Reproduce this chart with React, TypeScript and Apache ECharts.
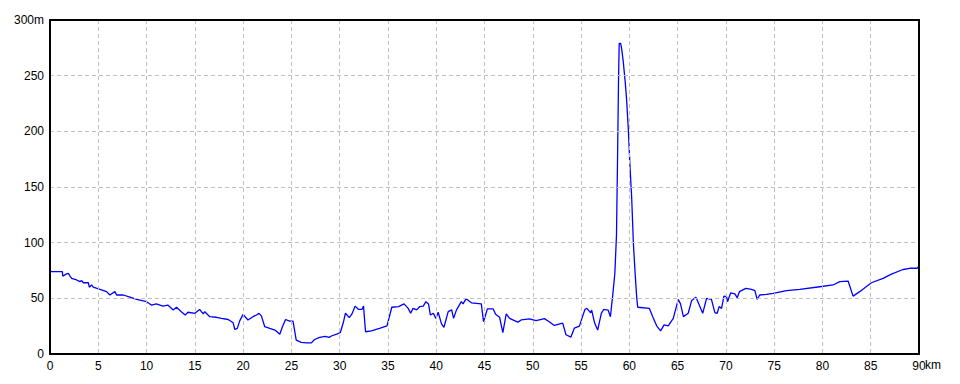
import React, { useEffect, useRef } from "react";
import * as echarts from "echarts";

// distance along route (km)
const distanceKm: number[] = [
  0.0, 0.03, 0.08, 1.28, 1.32, 1.72, 1.9, 2.07, 2.24, 2.76, 3.1, 3.28, 3.45, 3.97, 4.07, 4.31, 4.48,
  5.17, 5.86, 6.2, 6.72, 6.9, 7.59, 8.28, 8.97, 10.0, 10.5, 11.0, 11.7, 12.2, 12.76, 13.1, 13.6,
  14.0, 14.3, 15.0, 15.5, 15.86, 16.03, 16.55, 17.24, 17.76, 18.45, 18.97, 19.14, 19.4, 19.66,
  20.0, 20.5, 21.03, 21.38, 21.65, 21.9, 22.24, 22.76, 23.3, 23.8, 24.07, 24.4, 24.83, 25.17,
  25.5, 26.03, 26.55, 27.07, 27.4, 27.93, 28.5, 28.9, 29.2, 29.7, 30.07, 30.4, 30.6, 31.0, 31.27,
  31.6, 31.96, 32.3, 32.47, 32.68, 33.3, 34.2, 34.9, 35.4, 36.1, 36.67, 37.1, 37.35, 37.6, 37.97,
  38.3, 38.66, 38.93, 39.2, 39.4, 39.7, 39.97, 40.2, 40.55, 40.8, 41.24, 41.6, 41.8, 42.1, 42.6,
  42.78, 43.1, 43.64, 44.16, 44.67, 44.9, 45.3, 45.9, 46.15, 46.56, 46.9, 47.25, 47.6, 47.94,
  48.45, 48.8, 49.66, 50.34, 51.2, 51.7, 52.23, 53.1, 53.44, 53.95, 54.3, 54.83, 55.15, 55.4,
  55.6, 56.0, 56.1, 56.4, 56.72, 57.1, 57.34, 57.8, 58.04, 58.3, 58.5, 58.67, 58.78, 58.88, 58.95,
  59.1, 59.2, 59.37, 59.58, 59.72, 59.9, 60.07, 60.24, 60.42, 60.6, 60.77, 60.87, 62.07, 62.4,
  62.83, 63.24, 63.6, 64.03, 64.55, 65.07, 65.3, 65.6, 66.1, 66.45, 66.9, 67.1, 67.6, 68.0, 68.5,
  68.86, 69.1, 69.3, 69.55, 69.8, 70.07, 70.17, 70.5, 70.93, 71.17, 71.4, 72.07, 72.66, 73.0,
  73.24, 73.5, 74.2, 74.9, 76.28, 77.66, 79.72, 81.1, 81.8, 82.66, 83.17, 83.86, 85.07, 86.28,
  87.14, 88.35, 89.03, 89.8, 90.0,
];

// elevation (m)
const elevationM: number[] = [
  68, 76, 74, 74, 70, 72, 72.5, 70, 68, 66.5, 65, 66, 64, 64, 60, 62, 60,
  58, 56, 53, 56, 53, 53, 51, 49, 47, 44, 45, 43, 44, 39.5, 42, 38,
  35, 37.5, 36.5, 40, 36, 38, 33.5, 33, 32, 31, 28, 22, 23, 30,
  35.6, 30.5, 33.5, 35, 36.5, 34, 24.5, 23, 21.5, 17.7, 24.5, 31, 29.6, 29.6,
  12.5, 10.5, 10, 10, 13, 15, 15.8, 14.9, 16.4, 17.9, 19.3, 29, 36.6, 32.7, 36,
  43, 40, 40, 43, 20, 20.8, 23.2, 25.3, 42, 42.6, 45, 41, 36.6, 41, 39.6,
  42.6, 43, 47, 45, 35, 36.6, 32, 37.5, 27, 24, 38, 39.6, 32, 39.6, 47,
  45, 49.7, 46, 45.5, 45, 29, 40.5, 40.5, 35.7, 33, 19.3, 36, 32, 30.6,
  28.6, 30.6, 31.5, 30, 31.8, 29, 25.6, 27.7, 17.3, 15.2, 23.2, 25, 33.6, 40,
  41, 37, 39.5, 28, 21.5, 36.5, 40, 39.5, 33.5, 54.5, 72.5, 107, 176, 245, 279,
  279, 274.5, 262.6, 243.7, 228, 201, 168, 141, 99.4, 72.5, 50, 42, 41, 34,
  25.3, 20.8, 26.2, 25.3, 32, 49, 45, 33.6, 36.6, 48, 51, 47, 36.6, 50, 49,
  37.2, 36.6, 42.6, 41, 52, 51.5, 47, 55, 54, 50.6, 56, 59, 58, 57,
  49, 53, 53.6, 54.5, 57, 58, 60.4, 62, 65, 65.5, 52, 56, 64, 67.9,
  71.7, 75.9, 77, 77, 78.9,
];

const xTicks = { min: 0, max: 90, interval: 5 };
const yTicks = { min: 0, max: 300, interval: 50 };

const FONT = "'Liberation Sans Narrow', 'Liberation Sans', sans-serif";

export default function App() {
  const ref = useRef<HTMLDivElement>(null);

  useEffect(() => {
    if (!ref.current) return;
    const chart = echarts.init(ref.current, undefined, { renderer: "svg" });
    const data = distanceKm.map((d, i) => [d, elevationM[i]]);
    const frameAxis = {
      type: "value",
      axisLine: { show: true, onZero: false, lineStyle: { color: "#000", width: 2 } },
      axisTick: { show: false },
      axisLabel: { show: false },
      splitLine: { show: false },
      z: 5,
    };
    chart.setOption({
      animation: false,
      backgroundColor: "#ffffff",
      grid: {
        left: 50,
        right: 41,
        top: 20,
        bottom: 30,
        show: true,
        borderColor: "#000000",
        borderWidth: 0,
        backgroundColor: "#ffffff",
      },
      xAxis: [
        {
          type: "value",
          min: xTicks.min,
          max: xTicks.max,
          interval: xTicks.interval,
          axisLine: { show: true, onZero: false, lineStyle: { color: "#000", width: 2 } },
          axisTick: { show: false },
          axisLabel: {
            color: "#000",
            fontFamily: FONT,
            fontSize: 12,
            margin: 6,
            formatter: (v: number) => String(v),
          },
          splitLine: {
            show: true,
            lineStyle: { color: "#c0c0c0", type: [4, 3], width: 1 },
          },
          z: 5,
        },
        {
          ...frameAxis,
          position: "top",
          min: xTicks.min,
          max: xTicks.max,
          interval: xTicks.interval,
        },
      ],
      yAxis: [
        {
          type: "value",
          min: yTicks.min,
          max: yTicks.max,
          interval: yTicks.interval,
          axisLine: { show: true, onZero: false, lineStyle: { color: "#000", width: 2 } },
          axisTick: { show: false },
          axisLabel: {
            color: "#000",
            fontFamily: FONT,
            fontSize: 12,
            margin: 6,
            formatter: (v: number) => (v === 300 ? "300m" : String(v)),
          },
          splitLine: {
            show: true,
            lineStyle: { color: "#c0c0c0", type: [4, 3], width: 1 },
          },
          z: 5,
        },
        {
          ...frameAxis,
          position: "right",
          min: yTicks.min,
          max: yTicks.max,
          interval: yTicks.interval,
        },
      ],
      graphic: [
        {
          type: "text",
          left: 925,
          top: 359,
          style: { text: "km", fill: "#000", font: `12px ${FONT}` },
        },
      ],
      series: [
        {
          type: "line",
          data,
          xAxisIndex: 0,
          yAxisIndex: 0,
          showSymbol: false,
          symbol: "none",
          lineStyle: { color: "#0000ff", width: 1.3 },
          z: 3,
        },
      ],
    });
    return () => chart.dispose();
  }, []);

  return (
    <div
      ref={ref}
      style={{ position: "fixed", left: 0, top: 0, width: 960, height: 384 }}
    />
  );
}
